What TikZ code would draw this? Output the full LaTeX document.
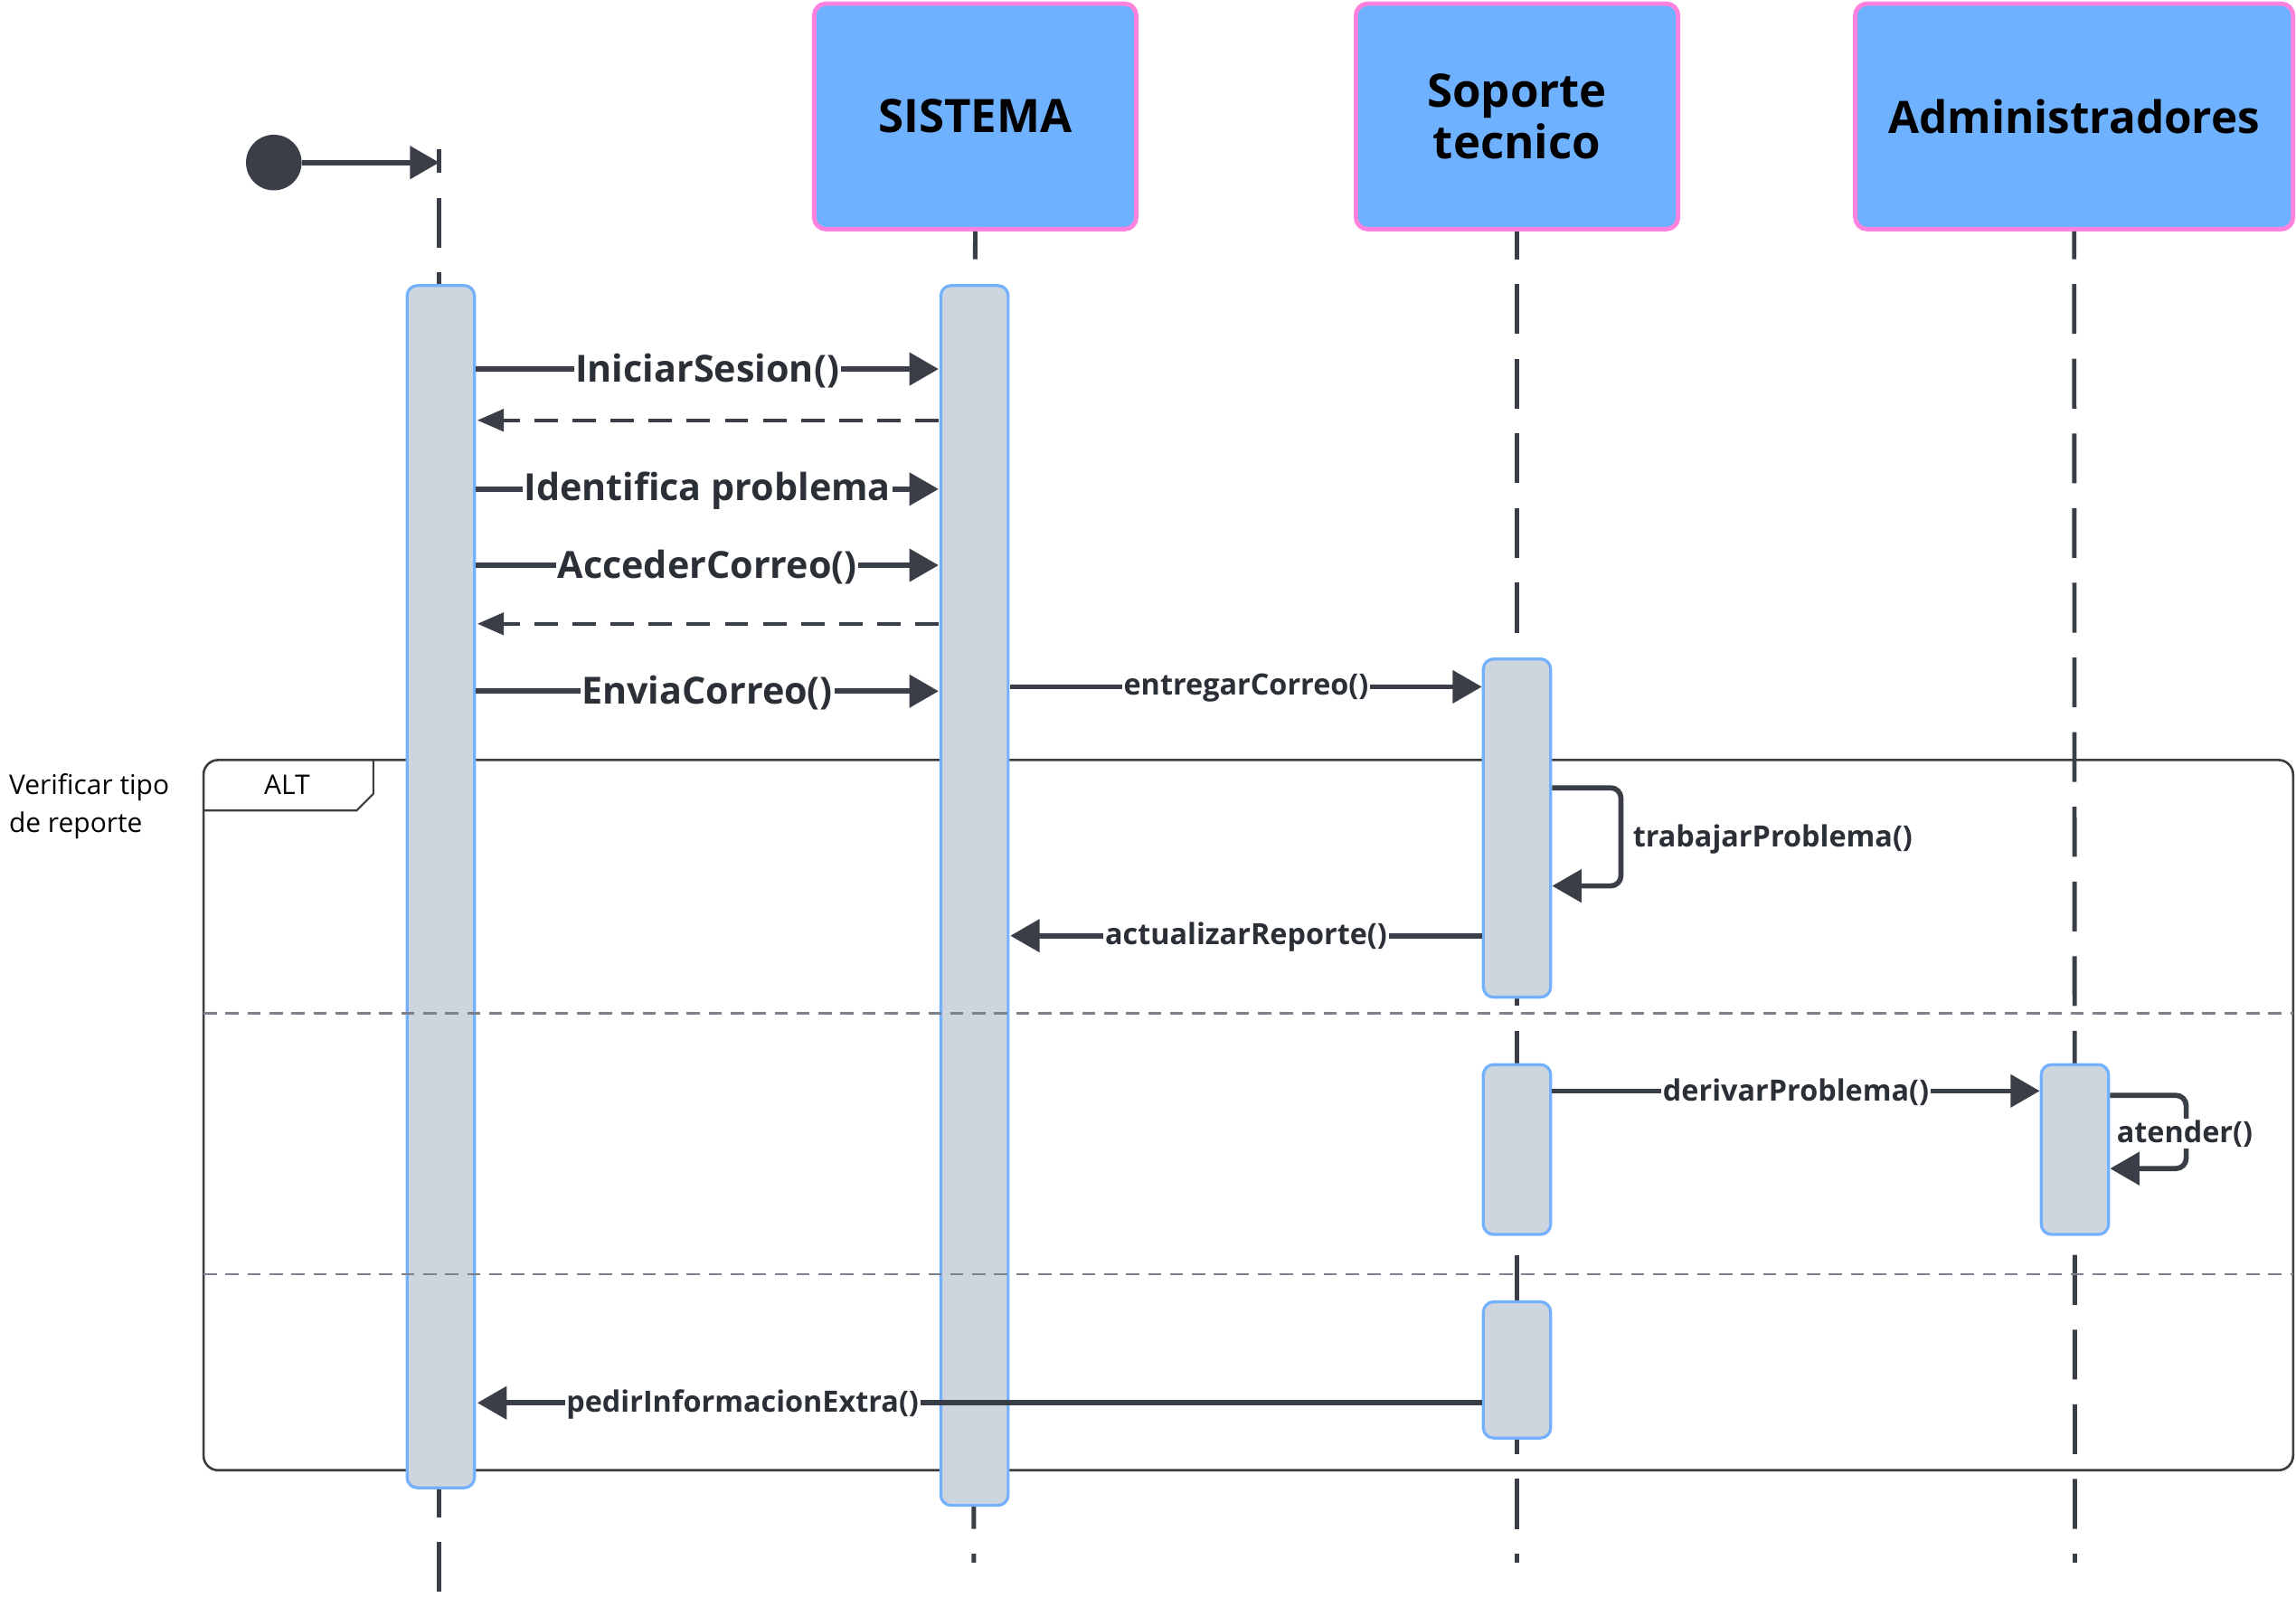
\documentclass[tikz,border=0pt]{standalone}
\usepackage{fontspec}
\setmainfont{Open Sans}
\usetikzlibrary{arrows.meta,calc}
\definecolor{dark}{HTML}{3A3F47}
\definecolor{lbl}{HTML}{2B2F36}
\definecolor{partblue}{HTML}{6DB1FF}
\definecolor{pinkb}{HTML}{FF82DE}
\definecolor{actfill}{HTML}{CDD5DE}
\definecolor{actborder}{HTML}{73B1FF}
\definecolor{sepgray}{HTML}{7C808A}
\definecolor{framec}{HTML}{3C3C3C}
\tikzset{
 part/.style={draw=pinkb, line width=3, fill=partblue, rounded corners=8, minimum width=220, minimum height=154, align=center, font=\fontsize{31.5}{37}\selectfont\bfseries, text=black, inner sep=0},
 actbox/.style={draw=actborder, line width=2, fill=actfill, rounded corners=7, minimum width=46, inner sep=0},
 life/.style={draw=dark, line width=3, dash pattern=on 34 off 17, dash phase=15},
 msg/.style={draw=dark, line width=3.5, -{Triangle[length=20,width=22]}},
 selfmsg/.style={draw=dark, line width=3.5, rounded corners=7, -{Triangle[length=20,width=22]}},
 ret/.style={draw=dark, line width=2.5, dash pattern=on 16 off 10, -{Triangle[length=18,width=15]}},
 biglbl/.style={fill=white, inner sep=1, text=lbl, yshift=-1, font=\fontsize{25.5}{29}\selectfont\bfseries},
 smalllbl/.style={fill=white, inner sep=1, text=lbl, yshift=-1, font=\fontsize{20}{24}\selectfont\bfseries},
 sep/.style={draw=sepgray, line width=1.5, dash pattern=on 9 off 6},
}
\begin{document}
\begin{tikzpicture}[x=1pt,y=-1pt]
\useasboundingbox (0,0) rectangle (1568,1097);

% ALT frame
\draw[framec, line width=1.6, rounded corners=10] (139,519) rectangle (1566,1004);
\draw[framec, line width=1.3] (139,553.5) -- (243.5,553.5) -- (255,542) -- (255,519);
\node[font=\fontsize{18.5}{22}\selectfont, text=black] (altlbl) at (196,536) {ALT};
\node[anchor=north west, align=left, font=\fontsize{18.5}{26}\selectfont, text=black, inner sep=0] (guard) at (6,528) {Verificar tipo\\de reporte};

% participants
\node[part] (sis) at (666,79.5) {SISTEMA};
\node[part] (sop) at (1036,79.5) {Soporte\\[-2pt]tecnico};
\node[part, minimum width=299] (adm) at (1416.5,79.5) {\fontsize{30.5}{37}\selectfont Administradores};

% start
\node[circle, fill=dark, minimum size=38, inner sep=0] (start) at (187,111) {};
\coordinate (aTop) at (300,102);
\coordinate (aTick) at (300,111);
\coordinate (aBot) at (300,1097);
\coordinate (sEnd) at (665,1067);
\coordinate (tEnd) at (1036,1067);
\coordinate (dEnd) at (1417,1067);

% lifelines
\draw[life, dash phase=18] (aTop) -- (aBot);
\draw[life] (sis.south) -- (sEnd);
\draw[life] (sop.south) -- (tEnd);
\draw[life] (adm.south) -- (dEnd);
\draw[msg] (start.east) -- (aTick);

% activations
\node[actbox, minimum height=821] (aA) at (301,605.5) {};
\node[actbox, minimum height=833] (aS) at (665.5,611.5) {};
\node[actbox, minimum height=231] (aT1) at (1036,565.5) {};
\node[actbox, minimum height=116] (aT2) at (1036,785) {};
\node[actbox, minimum height=93] (aT3) at (1036,935.5) {};
\node[actbox, minimum height=116] (aD) at (1417,785) {};

% separators
\coordinate (s1l) at (139,692); \coordinate (s1r) at (1566,692);
\coordinate (s2l) at (139,870); \coordinate (s2r) at (1566,870);
\draw[sep] (s1l) -- (s1r);
\draw[sep] (s2l) -- (s2r);

% message endpoints
\coordinate (m1a) at (325,252); \coordinate (m1b) at (641,252);
\coordinate (m2a) at (641,287); \coordinate (m2b) at (326,287);
\coordinate (m3a) at (325,334); \coordinate (m3b) at (641,334);
\coordinate (m4a) at (325,386); \coordinate (m4b) at (641,386);
\coordinate (m5a) at (641,426); \coordinate (m5b) at (326,426);
\coordinate (m6a) at (325,472); \coordinate (m6b) at (641,472);
\coordinate (m7a) at (690,469); \coordinate (m7b) at (1012,469);
\coordinate (t1) at (1060,538); \coordinate (t2) at (1060,605);
\coordinate (m8a) at (1012,639); \coordinate (m8b) at (690,639);
\coordinate (m9a) at (1060,745); \coordinate (m9b) at (1393,745);
\coordinate (d1) at (1441,748); \coordinate (d2) at (1441,798);
\coordinate (m10a) at (1012,958); \coordinate (m10b) at (326,958);

\draw[msg] (m1a) -- node[biglbl] (l1) {IniciarSesion()} (m1b);
\draw[ret] (m2a) -- (m2b);
\draw[msg] (m3a) -- node[biglbl] (l3) {Identifica problema} (m3b);
\draw[msg] (m4a) -- node[biglbl] (l4) {AccederCorreo()} (m4b);
\draw[ret] (m5a) -- (m5b);
\draw[msg] (m6a) -- node[biglbl] (l6) {EnviaCorreo()} (m6b);
\draw[msg] (m7a) -- node[smalllbl] (l7) {entregarCorreo()} (m7b);
\draw[selfmsg] (t1) -- ++(47,0) |- (t2);
\node[smalllbl, anchor=west, fill=none] (l8) at (1114,572) {trabajarProblema()};
\draw[msg] (m8a) -- node[smalllbl] (l9) {actualizarReporte()} (m8b);
\draw[msg] (m9a) -- node[smalllbl] (l10) {derivarProblema()} (m9b);
\draw[selfmsg] (d1) -- ++(52,0) |- (d2);
\node[smalllbl] (l11) at (1492,773) {atender()};
\draw[msg] (m10a) -- node[smalllbl, pos=0.736] (l12) {pedirInformacionExtra()} (m10b);
\end{tikzpicture}
\end{document}
